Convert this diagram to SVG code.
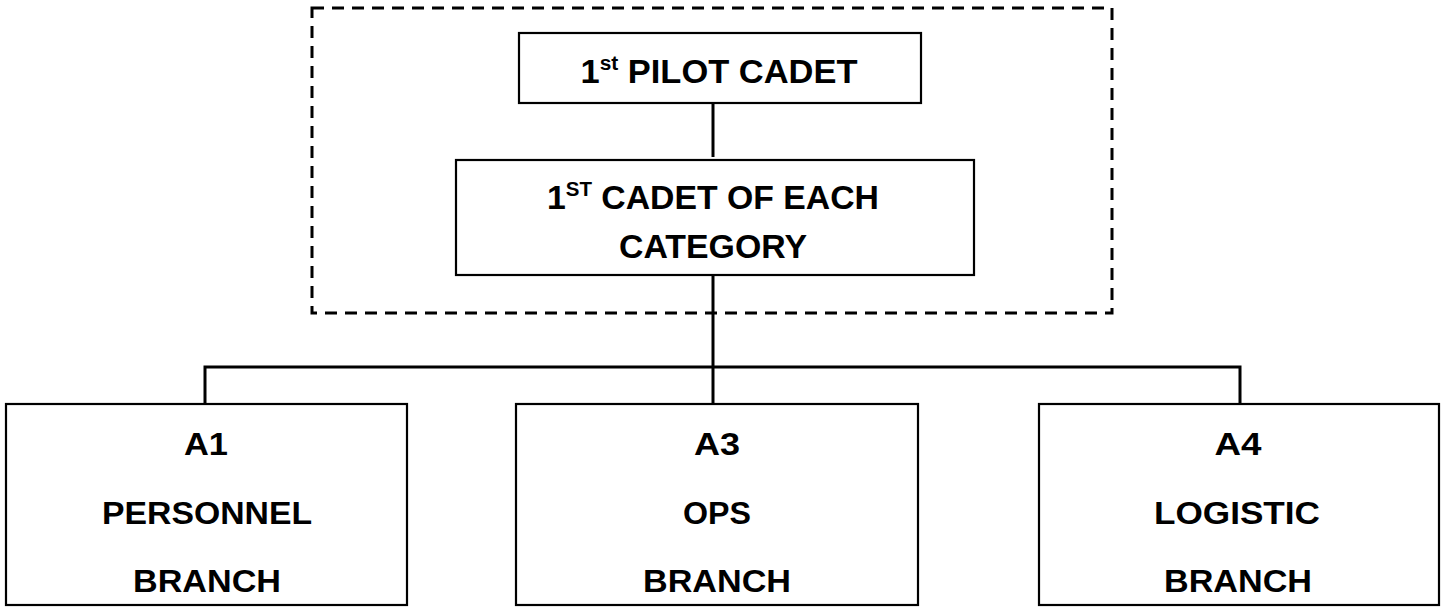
<svg xmlns="http://www.w3.org/2000/svg" width="1441" height="607" viewBox="0 0 1441 607">
<style>
.box{fill:#fff;stroke:#000;stroke-width:2.2}
.dash{fill:none;stroke:#000;stroke-width:3;stroke-dasharray:12 8}
.conn{fill:none;stroke:#000;stroke-width:3}
.t{font-family:"Liberation Sans",Arial,sans-serif;font-weight:bold;font-size:33px;fill:#000;text-anchor:middle}
.b{font-size:32px}
.sup{font-size:20px}
</style>
<rect width="1441" height="607" fill="#fff"/>
<g id="group-frame"><rect class="dash" x="312" y="8" width="800" height="305"/></g>
<g id="connectors">
<line class="conn" x1="713" y1="103" x2="713" y2="157"/>
<line class="conn" x1="713" y1="275" x2="713" y2="403"/>
<polyline class="conn" points="205,403 205,367 1240,367 1240,403"/>
</g>
<g id="node-pilot">
<rect class="box" x="519" y="33" width="402" height="70"/>
<text class="t" x="719" y="83" textLength="277" lengthAdjust="spacingAndGlyphs">1<tspan class="sup" dy="-13">st</tspan><tspan dy="13"> PILOT CADET</tspan></text>
</g>
<g id="node-category">
<rect class="box" x="456" y="160" width="518" height="115"/>
<text class="t" x="713" y="209" textLength="332" lengthAdjust="spacingAndGlyphs">1<tspan class="sup" dy="-13">ST</tspan><tspan dy="13"> CADET OF EACH</tspan></text>
<text class="t" x="713" y="258" textLength="188" lengthAdjust="spacingAndGlyphs">CATEGORY</text>
</g>
<g id="node-a1">
<rect class="box" x="6" y="404" width="401" height="201"/>
<text class="t b" x="206" y="455" textLength="44" lengthAdjust="spacingAndGlyphs">A1</text>
<text class="t b" x="207" y="524" textLength="210" lengthAdjust="spacingAndGlyphs">PERSONNEL</text>
<text class="t b" x="207" y="592" textLength="148" lengthAdjust="spacingAndGlyphs">BRANCH</text>
</g>
<g id="node-a3">
<rect class="box" x="516" y="404" width="402" height="201"/>
<text class="t b" x="717" y="455" textLength="46" lengthAdjust="spacingAndGlyphs">A3</text>
<text class="t b" x="717" y="524" textLength="68" lengthAdjust="spacingAndGlyphs">OPS</text>
<text class="t b" x="717" y="592" textLength="148" lengthAdjust="spacingAndGlyphs">BRANCH</text>
</g>
<g id="node-a4">
<rect class="box" x="1039" y="404" width="400" height="201"/>
<text class="t b" x="1238" y="455" textLength="47" lengthAdjust="spacingAndGlyphs">A4</text>
<text class="t b" x="1237" y="524" textLength="166" lengthAdjust="spacingAndGlyphs">LOGISTIC</text>
<text class="t b" x="1238" y="592" textLength="148" lengthAdjust="spacingAndGlyphs">BRANCH</text>
</g>
</svg>
